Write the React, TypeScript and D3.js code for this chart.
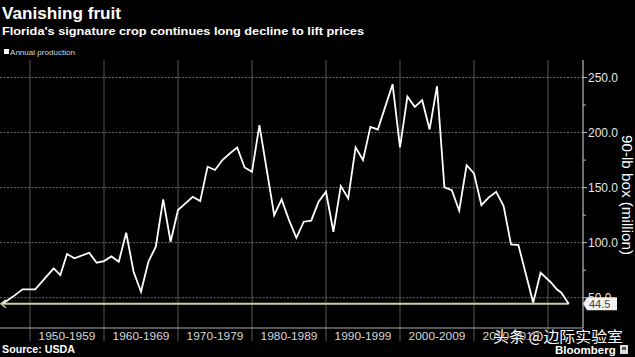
import React from "react";
import * as d3 from "d3";

const years = [
  1946.4, 1947.7, 1949, 1950.7, 1953.2, 1954.1, 1955, 1956, 1958, 1959, 1960,
  1961, 1962, 1963, 1964, 1965, 1966, 1967, 1968, 1969, 1970, 1971, 1972, 1973,
  1974, 1975, 1976, 1977, 1978, 1979, 1980, 1981, 1983, 1984, 1985, 1986, 1987,
  1988, 1989, 1990, 1991, 1992, 1993, 1994, 1995, 1996, 1997, 1998, 1999, 2000,
  2001, 2002, 2003, 2004, 2005, 2006, 2007, 2008, 2009, 2010, 2011, 2012, 2013,
  2014, 2015, 2016, 2018, 2019, 2020.3, 2021.2, 2021.8, 2022.8,
];
const production = [
  45, 51, 57.6, 57.6, 76.7, 70.6, 89.7, 85.8, 90.8, 81.8, 83.3,
  87.5, 82.7, 109, 73.6, 55.4, 82.7, 96.3, 139.3, 100.8, 129.6, 135.7, 141.7, 137.7,
  169, 166, 175, 181, 186.5, 168.3, 164.3, 206.7, 125, 139.3, 120.5, 104.4, 119,
  120, 137.1, 146.2, 109.9, 151.4, 140.2, 186.5, 175, 205.2, 202.8, 223.3, 243.9, 186.5,
  232.7, 223.3, 229.4, 202.8, 242.1, 150.2, 147.7, 129, 170.4, 162.9, 134.1, 141.1, 146.2,
  133.2, 98.5, 97.8, 45.5, 72.7, 64.5, 57.6, 54.5, 44.5,
];
const latestValue = 44.5;
const yMajorTicks = [50, 100, 150, 200, 250];
const yMinorTicks = [75, 125, 175, 225];
const decadeStarts = [1950, 1960, 1970, 1980, 1990, 2000, 2010, 2020];
const decadeLabels = ["1950-1959", "1960-1969", "1970-1979", "1980-1989", "1990-1999", "2000-2009", "2010-2019"];

const W = 635;
const H = 357;
const plotLeft = 0;
const plotRight = 583;
const plotTop = 60;
const plotBottom = 328;

export default function App() {
  const x = d3.scaleLinear().domain([1950, 2020]).range([30, 548]);
  const y = d3.scaleLinear().domain([50, 250]).range([297.7, 77.5]);
  const pts = years.map((yr, i) => [x(yr), y(production[i])] as [number, number]);
  const line = d3.line().curve(d3.curveLinear)(pts) || "";
  const lastX = pts[pts.length - 1][0];
  const ly = y(latestValue);
  const font = "'Liberation Sans', Arial, sans-serif";

  return (
    <svg
      width={W}
      height={H}
      style={{ position: "absolute", left: 0, top: 0, display: "block" }}
      fontFamily={font}
    >
      <rect x={0} y={0} width={W} height={H} fill="#000" />

      {/* titles */}
      <text x={2} y={19} fill="#fff" fontSize={17} fontWeight="bold" textLength={119} lengthAdjust="spacingAndGlyphs">
        Vanishing fruit
      </text>
      <text x={2} y={35} fill="#fff" fontSize={11.5} fontWeight="bold" textLength={362} lengthAdjust="spacingAndGlyphs">
        Florida's signature crop continues long decline to lift prices
      </text>

      {/* legend */}
      <rect x={4} y={49} width={5} height={5} fill="#fff" />
      <text x={10} y={55} fill="#d8d8d8" fontSize={8} textLength={65} lengthAdjust="spacingAndGlyphs">
        Annual production
      </text>

      {/* vertical gridlines */}
      {decadeStarts.map((d) => (
        <line key={d} x1={x(d)} x2={x(d)} y1={plotTop} y2={341} stroke="#4a4a4a" strokeWidth={1.2} />
      ))}

      {/* horizontal gridlines */}
      {yMajorTicks.map((t) => (
        <line key={t} x1={plotLeft} x2={plotRight} y1={y(t)} y2={y(t)} stroke="#6a6a6a" strokeWidth={1} strokeDasharray="2,1.5" />
      ))}

      {/* bottom axis line */}
      <line x1={plotLeft} x2={plotRight} y1={plotBottom} y2={plotBottom} stroke="#aaa" strokeWidth={1} />

      {/* right axis */}
      <line x1={plotRight} x2={plotRight} y1={plotTop} y2={plotBottom} stroke="#bbb" strokeWidth={1.2} />
      {yMinorTicks.map((t) => (
        <line key={t} x1={plotRight} x2={plotRight + 3} y1={y(t)} y2={y(t)} stroke="#bbb" strokeWidth={1} />
      ))}
      {yMajorTicks.map((t) => (
        <g key={t}>
          <line x1={plotRight} x2={plotRight + 4} y1={y(t)} y2={y(t)} stroke="#bbb" strokeWidth={1} />
          <text x={plotRight + 5} y={y(t) + 4.2} fill="#e6e6e6" fontSize={12}>
            {t.toFixed(1)}
          </text>
        </g>
      ))}
      <text
        transform={`translate(622,195) rotate(90)`}
        textAnchor="middle"
        fill="#fff"
        fontSize={14}
        textLength={120}
        lengthAdjust="spacingAndGlyphs"
      >
        90-lb box (million)
      </text>

      {/* decade labels */}
      {decadeLabels.map((lab, i) => (
        <text
          key={lab}
          x={(x(decadeStarts[i]) + x(decadeStarts[i + 1])) / 2}
          y={340}
          textAnchor="middle"
          fill="#d6d6d6"
          fontSize={11.5}
          textLength={57}
          lengthAdjust="spacingAndGlyphs"
        >
          {lab}
        </text>
      ))}

      {/* latest value line */}
      <line x1={1} x2={lastX} y1={ly} y2={ly} stroke="#cfcf9c" strokeWidth={2} />
      <path d={`M6,${ly - 4} L1,${ly} L6,${ly + 4}`} fill="none" stroke="#cfcf9c" strokeWidth={1.5} />

      {/* data line */}
      <path d={line} fill="none" stroke="#fff" strokeWidth={1.8} strokeLinejoin="miter" />

      {/* latest value label */}
      <path
        d={`M${plotRight},${ly} L${plotRight + 4},${ly - 6.5} L${plotRight + 34},${ly - 6.5} L${plotRight + 34},${ly + 6.5} L${plotRight + 4},${ly + 6.5} Z`}
        fill="#f2f2f2"
      />
      <text x={plotRight + 6} y={ly + 4} fill="#444" fontSize={11}>
        {latestValue.toFixed(1)}
      </text>

      {/* footer */}
      <text x={2} y={353} fill="#fff" fontSize={10.7} fontWeight="bold">
        Source: USDA
      </text>
      <text x={555} y={354} fill="#fff" fontSize={11.5} fontWeight="bold">
        Bloomberg
      </text>
      <rect x={620} y={345} width={8} height={9} fill="#ddd" />
      <rect x={622} y={347} width={4} height={3} fill="#555" />

      {/* watermark */}
      <text
        x={493}
        y={342}
        fill="#fff"
        fontSize={14.5}
        fontFamily="'Noto Sans CJK SC', sans-serif"
        stroke="#000"
        strokeWidth={0.6}
        paintOrder="stroke"
        textLength={130}
        lengthAdjust="spacingAndGlyphs"
      >
        头条 @边际实验室
      </text>
    </svg>
  );
}
